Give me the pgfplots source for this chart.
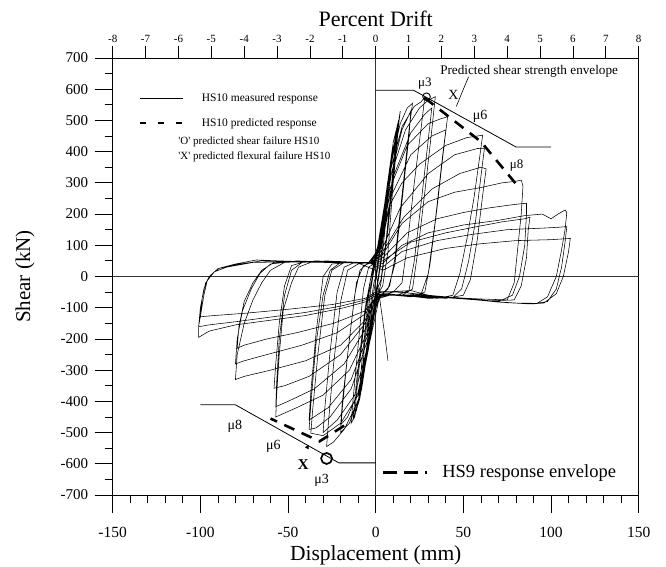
\documentclass[border=0pt]{standalone}
\usepackage{fontspec}
\setmainfont{Liberation Serif}
\usepackage{pgfplots}
\pgfplotsset{compat=1.18}
\newcommand\fs[1]{\fontsize{#1}{#1}\selectfont}
\begin{document}
\begin{tikzpicture}
% ---------------- main axis: displacement vs shear ----------------
\begin{axis}[
  at={(0,0)}, anchor=south west,
  scale only axis, width=526pt, height=437pt,
  xmin=-150, xmax=150, ymin=-700, ymax=700,
  xtick={-150,-100,...,150}, minor x tick num=4,
  ytick={-700,-600,...,700}, minor y tick num=1,
  xtick pos=bottom, ytick pos=left,
  tick align=outside,
  major tick length=18pt, minor tick length=8pt,
  every tick/.style={black, line width=0.8pt},
  axis line style={line width=0.9pt},
  /pgf/number format/assume math mode=true,
  xticklabel style={font=\fs{15.5}, yshift=-11pt},
  yticklabel style={font=\fs{15}, xshift=-3pt},
  xlabel={Displacement (mm)},
  xlabel style={at={(axis description cs:0.5,-0.1373)}, anchor=center, font=\fs{21.5}},
  ylabel={Shear (kN)},
  ylabel style={at={(axis description cs:-0.1667,0.5)}, anchor=center, rotate=0, font=\fs{21}},
  clip=false,
]
% zero reference lines
\addplot[black!80, line width=0.7pt, forget plot] coordinates {(-150,0) (150,0)};
\addplot[black!80, line width=0.7pt, forget plot] coordinates {(0,-700) (0,700)};

% measured response HS10 (cyclic load history)
\addplot[black, line width=0.55pt] coordinates {
(0,0)(3,120)(5,200)(4,140)(1,20)(0,-10)(-3,-120)(-5,-190)(-4,-130)(-1,-20)(0,0)
(4,160)(7,300)(8,340)(6,220)(3,60)(1,-20)(-3,-140)(-7,-300)(-8,-330)(-6,-200)(-3,-50)(-1,20)
(4,150)(8,320)(11,440)(12,470)(10,350)(6,120)(3,-10)(1,-40)(-3,-180)(-8,-360)(-11,-430)(-12,-440)(-10,-320)(-6,-120)(-3,-10)(-1,30)
(4,170)(9,380)(10,420)(8,300)(4,80)(1,-30)(-4,-200)(-9,-390)(-10,-410)(-8,-280)(-4,-60)(-1,25)
(5,230)(10,430)(13,500)(11,380)(7,150)(3,-20)(-4,-200)(-10,-400)(-13,-460)(-11,-340)(-6,-100)(-2,20)
(3,130)(8,330)(12,460)(14,530)(13,480)(10,300)(7,80)(4,-30)(1,-60)(-3,-170)(-8,-350)(-12,-450)(-14,-470)(-13,-400)(-10,-220)(-7,-40)(-4,30)(-1,40)
(3,140)(8,340)(14,490)(18,540)(21,555)(19,470)(15,260)(11,60)(8,-30)(4,-55)(1,-70)(-3,-190)(-9,-380)(-15,-470)(-20,-500)(-19,-420)(-16,-250)(-12,-60)(-9,20)(-5,40)(-1,45)
(3,120)(9,330)(15,470)(20,530)(19,450)(15,240)(11,40)(7,-40)(3,-60)(0,-70)(-4,-200)(-10,-370)(-16,-450)(-20,-475)(-19,-400)(-15,-200)(-11,-20)(-7,35)(-2,45)
(2,110)(8,330)(15,480)(22,545)(26,560)(28,575)(26,480)(22,300)(18,100)(15,-20)(10,-50)(4,-60)(0,-80)(-4,-230)(-10,-400)(-18,-490)(-24,-530)(-28,-545)(-27,-470)(-24,-280)(-20,-80)(-16,20)(-10,40)(-4,45)(-1,50)
(3,120)(9,330)(17,470)(25,540)(30,565)(34,576)(32,470)(28,270)(24,80)(21,-40)(15,-60)(8,-60)(2,-70)(-3,-200)(-10,-380)(-20,-470)(-30,-510)(-37,-502)(-36,-430)(-33,-250)(-29,-60)(-25,20)(-18,45)(-10,45)(-3,45)
(3,110)(10,320)(20,460)(28,520)(32,540)(30,440)(26,240)(22,50)(19,-45)(12,-60)(5,-60)(1,-65)(-4,-210)(-12,-380)(-22,-460)(-30,-500)(-29,-420)(-26,-240)(-22,-50)(-18,30)(-12,45)(-4,45)
(2,90)(8,280)(18,420)(30,490)(37,505)(41,512)(39,420)(35,220)(31,40)(28,-50)(20,-65)(10,-60)(3,-60)(0,-80)(-5,-210)(-14,-360)(-26,-450)(-34,-485)(-38,-490)(-37,-410)(-34,-214)(-30,-60)(-26,20)(-20,45)(-10,45)(-3,45)
(2,80)(9,260)(20,390)(32,450)(40,470)(38,380)(34,180)(30,10)(26,-55)(17,-60)(8,-60)(2,-65)(-4,-180)(-14,-330)(-27,-420)(-38,-460)(-37,-370)(-34,-180)(-30,0)(-25,40)(-15,45)(-4,45)
(3,90)(8,229)(15,300)(25,360)(40,420)(52,445)(58,450)(61,453)(59,370)(56,250)(52,120)(48,10)(44,-60)(35,-70)(25,-65)(15,-60)(6,-55)(1,-60)(-4,-170)(-15,-300)(-30,-380)(-45,-420)(-53,-440)(-57,-450)(-56.5,-380)(-55,-250)(-52.7,-107)(-48,-20)(-44,30)(-35,50)(-20,48)(-8,45)(-2,45)
(3,80)(14,220)(30,330)(45,390)(58,410)(62,411)(60,320)(57,180)(53,50)(49,-40)(44,-68)(30,-70)(15,-60)(4,-55)(0,-60)(-5,-160)(-18,-280)(-35,-360)(-50,-400)(-57,-417)(-56.5,-340)(-55,-200)(-52,-60)(-48,20)(-42,45)(-28,50)(-12,45)(-2,45)
(3,70)(16,190)(32,280)(48,330)(60,350)(63,345)(61,260)(58,120)(54,-10)(50,-60)(40,-70)(25,-65)(10,-58)(1,-60)(-6,-150)(-20,-250)(-38,-320)(-52,-350)(-58,-358)(-57,-280)(-55,-150)(-52,-30)(-48,35)(-40,48)(-25,48)(-10,45)(-2,45)
(4,70)(15,170)(30,240)(45,270)(60,285)(72,300)(80,305)(83,309)(84,290)(83,200)(81,90)(79,-20)(75,-75)(60,-72)(45,-68)(30,-64)(15,-60)(5,-55)(0,-60)(-6,-140)(-20,-220)(-40,-270)(-60,-300)(-75,-320)(-80,-330)(-79,-250)(-75,-150)(-70,-75)(-65,-20)(-60,20)(-52,45)(-40,48)(-25,47)(-10,45)(-2,45)
(4,60)(18,140)(35,185)(50,205)(65,220)(78,230)(86,235)(86,200)(85,100)(82,0)(78,-60)(70,-80)(50,-70)(30,-62)(12,-58)(1,-60)(-6,-120)(-22,-180)(-42,-220)(-62,-250)(-75,-270)(-80,-280)(-79,-200)(-76,-110)(-71,-40)(-66,10)(-60,40)(-45,50)(-30,47)(-12,45)(-2,45)
(4,50)(20,110)(40,140)(58,160)(72,175)(85,185)(88,190)(87,150)(86,60)(83,-30)(79,-75)(65,-78)(45,-70)(25,-62)(10,-58)(1,-60)(-6,-110)(-24,-150)(-45,-180)(-62,-200)(-75,-220)(-79,-230)(-78,-160)(-75,-80)(-70,-20)(-65,20)(-58,45)(-40,48)(-20,46)(-5,45)
(4,42)(15,100)(30,140)(50,165)(70,180)(85,195)(95,200)(100,185)(104,200)(108,213)(109,205)(108,150)(106,85)(103,0)(98,-65)(92,-86)(80,-85)(69,-81)(60,-75)(52,-70)(40,-65)(30,-60)(20,-45)(10,-48)(3,-50)(0,-60)(-5,-80)(-18,-100)(-40,-125)(-60,-140)(-80,-155)(-95,-175)(-101,-195)(-101,-160)(-100,-129)(-98,-60)(-96,-11)(-92,15)(-89,27)(-80,40)(-68,53)(-55,50)(-37,47)(-20,47)(-8,45)(-2,42)
(4,30)(15,80)(35,115)(55,135)(75,150)(95,155)(105,158)(109,160)(108,110)(106,30)(103,-40)(98,-80)(90,-88)(75,-84)(60,-76)(45,-70)(30,-62)(15,-50)(4,-50)(0,-55)(-6,-75)(-20,-95)(-40,-115)(-60,-130)(-80,-145)(-95,-155)(-101,-161)(-100,-100)(-98,-40)(-95,0)(-90,25)(-80,38)(-65,50)(-50,48)(-30,46)(-15,45)(-3,42)
(4,20)(18,60)(40,90)(60,105)(80,115)(100,118)(111,122)(110,80)(107,0)(103,-55)(96,-85)(88,-88)(70,-82)(52,-72)(35,-64)(18,-52)(5,-48)(0,-50)(-6,-70)(-25,-90)(-50,-105)(-75,-118)(-92,-125)(-100,-129)(-99,-70)(-97,-20)(-92,15)(-85,30)(-70,45)(-50,47)(-30,45)(-10,43)(0,20)(3,-100)(5,-180)(7,-270)
};

% predicted shear strength envelope
\addplot[black, line width=0.8pt] coordinates {(0,597) (21.5,597) (80,415) (100,415)};
\addplot[black, line width=0.8pt] coordinates {(0,-597) (-21,-597) (-80,-411) (-100,-411)};

% predicted response (heavy dashes)
\addplot[black, line width=2.6pt, dash pattern=on 11pt off 8pt] coordinates {(28,572) (60,432) (81,290)};
\addplot[black, line width=2.6pt, dash pattern=on 11pt off 8pt] coordinates {(-18,-478) (-32,-528) (-60,-455)};

% predicted shear failure points
\addplot[only marks, mark=o, mark size=3.8pt, mark options={line width=0.9pt}] coordinates {(29,576)};
\addplot[only marks, mark=o, mark size=5.5pt, mark options={line width=1.7pt}] coordinates {(-28,-583)};
\addplot[only marks, mark=triangle*, mark size=2pt, mark options={rotate=-30}] coordinates {(-39,-547)};

% leader from the envelope label
\addplot[black, line width=0.6pt, smooth] coordinates {(53,640) (50,600) (46,545)};

% key (upper left)
\addplot[black, line width=0.6pt] coordinates {(-134.5,571) (-109.8,571)};
\addplot[black, line width=1.6pt, dash pattern=on 6pt off 12pt] coordinates {(-134.5,491) (-109,491)};
\node[anchor=west, font=\fs{11.5}] at (axis cs:-101.2,571) {HS10 measured response};
\node[anchor=west, font=\fs{11.5}] at (axis cs:-101.2,491) {HS10 predicted response};
\node[anchor=west, font=\fs{11}] at (axis cs:-114.5,430) {\textquotesingle O\textquotesingle\ predicted shear failure HS10};
\node[anchor=west, font=\fs{11}] at (axis cs:-114.5,384) {\textquotesingle X\textquotesingle\ predicted flexural failure HS10};

% key (lower right)
\addplot[black, line width=3pt, dash pattern=on 14pt off 7pt] coordinates {(4.3,-629) (29,-629)};
\node[anchor=west, font=\fs{18.5}] at (axis cs:36,-629) {HS9 response envelope};

% annotations
\node[anchor=west, font=\fs{13.2}] at (axis cs:34.8,656) {Predicted shear strength envelope};
\node[font=\fs{13}] at (axis cs:28,619) {μ3};
\node[font=\fs{14}] at (axis cs:59.5,512) {μ6};
\node[font=\fs{13}] at (axis cs:80.4,357) {μ8};
\node[font=\fs{14}] at (axis cs:44.3,581) {X};
\node[font=\fs{14}] at (axis cs:-80.3,-481) {μ8};
\node[font=\fs{14}] at (axis cs:-58.4,-545) {μ6};
\node[font=\fs{14}] at (axis cs:-30.8,-652) {μ3};
\node[font=\fs{15}\bfseries] at (axis cs:-41.3,-604) {X};
\end{axis}

% ---------------- top axis: drift ratio ----------------
\begin{axis}[
  at={(0,0)}, anchor=south west,
  scale only axis, width=526pt, height=437pt,
  xmin=-8, xmax=8, ymin=0, ymax=1,
  axis x line*=top, axis y line=none,
  xtick={-8,...,8},
  tick align=outside,
  major tick length=12pt,
  every tick/.style={black, line width=0.8pt},
  axis line style={line width=0.9pt},
  /pgf/number format/assume math mode=true,
  xticklabel style={font=\fs{11}},
  xlabel={Percent Drift},
  xlabel style={at={(axis description cs:0.5,1.0904)}, anchor=center, font=\fs{22}},
]
\end{axis}
\pgfresetboundingbox
\path[use as bounding box] (-112.7pt,-72pt) rectangle (553.3pt,495pt);
\end{tikzpicture}
\end{document}
